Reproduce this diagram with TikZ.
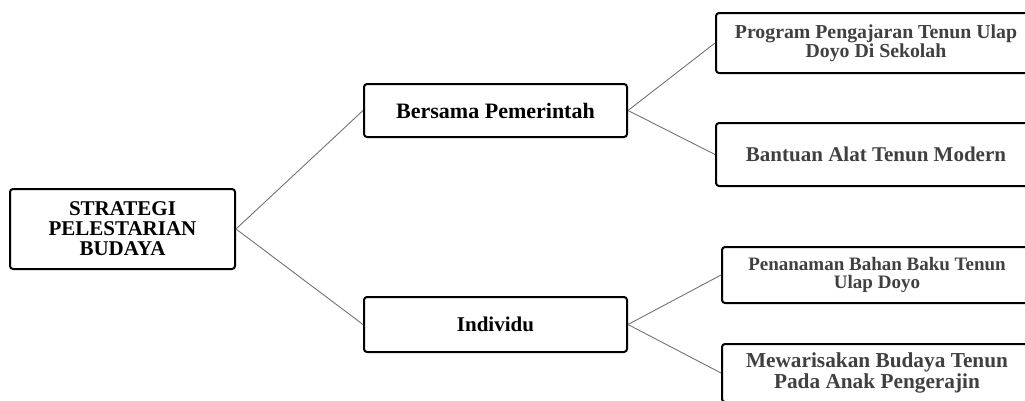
\documentclass[tikz,border=0pt]{standalone}
\usepackage{fontspec}
\setmainfont{Liberation Serif}
\begin{document}
\begin{tikzpicture}[x=1pt,y=-1pt,
  box/.style={draw=black, line width=2pt, rounded corners=3pt, fill=white, align=center, inner sep=0pt, font=\bfseries},
  rbox/.style={box, text=black!75},
  link/.style={draw=black!55, line width=0.9pt}]
\useasboundingbox (0,0) rectangle (1025,400);
\clip (0,0) rectangle (1025,400);
\node[box, minimum width=225pt, minimum height=80pt, font=\bfseries\fontsize{21}{20}\selectfont] (root) at (122.5,229) {STRATEGI\\PELESTARIAN\\BUDAYA};
\node[box, minimum width=263pt, minimum height=53pt, font=\bfseries\fontsize{22}{22}\selectfont] (bp) at (495.5,110.5) {Bersama Pemerintah};
\node[box, minimum width=263pt, minimum height=55pt, font=\bfseries\fontsize{21}{21}\selectfont] (ind) at (495.5,324.5) {Individu};
\node[rbox, minimum width=320pt, minimum height=60pt, font=\bfseries\fontsize{19.8}{18}\selectfont] (p1) at (876,43) {Program Pengajaran Tenun Ulap\\Doyo Di Sekolah};
\node[rbox, minimum width=320pt, minimum height=63pt, font=\bfseries\fontsize{21}{21}\selectfont] (p2) at (876,154.5) {Bantuan Alat Tenun Modern};
\node[rbox, minimum width=310pt, minimum height=56pt, font=\bfseries\fontsize{19}{18}\selectfont] (p3) at (877,275) {Penanaman Bahan Baku Tenun\\Ulap Doyo};
\node[rbox, minimum width=310pt, minimum height=58pt, font=\bfseries\fontsize{21.3}{19}\selectfont] (p4) at (877,373) {Mewarisakan Budaya Tenun\\Pada Anak Pengerajin};
\draw[link] (root.east) -- (bp.west);
\draw[link] (root.east) -- (ind.west);
\draw[link] (bp.east) -- (p1.west);
\draw[link] (bp.east) -- (p2.west);
\draw[link] (ind.east) -- (p3.west);
\draw[link] (ind.east) -- (p4.west);
\end{tikzpicture}
\end{document}
